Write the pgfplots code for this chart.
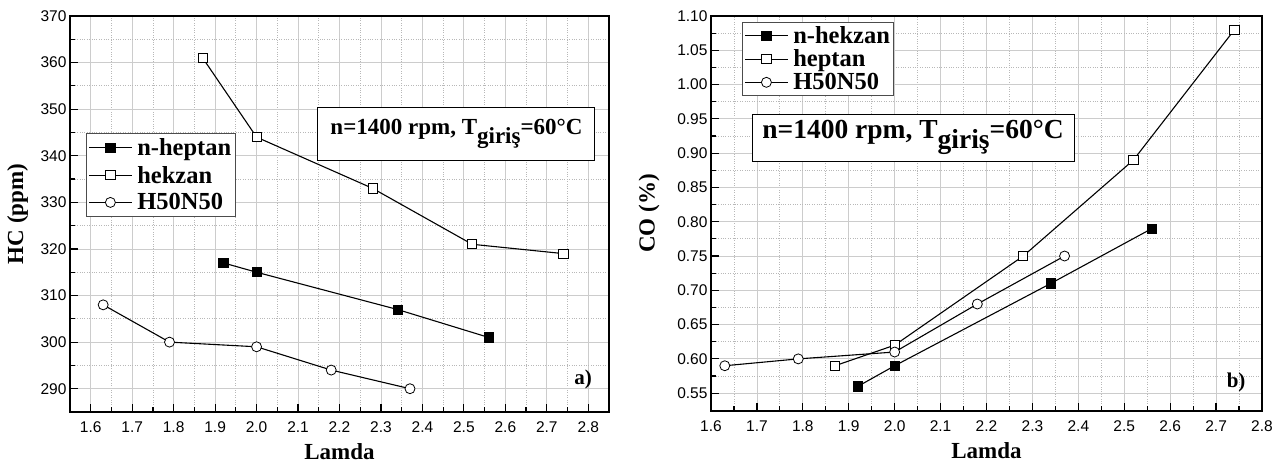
\documentclass[border=0pt]{standalone}
\usepackage{fontspec}
\setmainfont{Liberation Serif}
\setsansfont{Liberation Sans}
\usepackage{pgfplots}
\pgfplotsset{compat=1.18}

\pgfplotsset{
  mystyle/.style={
    scale only axis,
    axis line style={line width=1.6pt},
    tick pos=left,
    tick align=inside,
    major tick length=8pt, minor tick length=5pt,
    every tick/.style={black, line width=1.2pt},
    minor tick num=1,
    grid=both,
    major grid style={black!20, line width=0.8pt},
    minor grid style={black!28, dotted, line width=0.8pt},
    ticklabel style={font=\sffamily\fontsize{15.5}{15.5}\selectfont},
    /pgf/number format/assume math mode=true,
    xticklabel style={yshift=-6pt, /pgf/number format/.cd, fixed, fixed zerofill, precision=1},
    label style={font=\bfseries\fontsize{23}{23}\selectfont, inner sep=0pt},
    legend cell align=left,
    legend image code/.code={\draw[mark repeat=2,mark phase=2] plot coordinates {(0cm,0cm)(0.75cm,0cm)(1.5cm,0cm)};},
    clip=false,
  },
  sfill/.style={black, line width=1.1pt, mark=square*, mark size=4.6pt, mark options={solid, fill=black, line width=0.8pt}},
  sopen/.style={black, line width=1.1pt, mark=square*, mark size=4.6pt, mark options={solid, fill=white, line width=0.8pt}},
  scirc/.style={black, line width=1.1pt, mark=*, mark size=5pt, mark options={solid, fill=white, line width=0.8pt}},
}

\begin{document}
\begin{tikzpicture}
\useasboundingbox (0,0) rectangle (1287pt,464pt);

% ---------------- left: HC ----------------
\begin{axis}[mystyle,
  at={(70pt,52pt)}, anchor=south west,
  width=539pt, height=396pt,
  xmin=1.55, xmax=2.85, ymin=285, ymax=370,
  xtick={1.6,1.7,...,2.85},
  ytick={290,300,...,370},
  xlabel={Lamda}, ylabel={HC (ppm)},
  xlabel style={at={(axis description cs:0.5,-0.1)}, anchor=center},
  ylabel style={at={(axis description cs:-0.097,0.5)}, anchor=center},
  legend style={at={(axis description cs:0.0297,0.7045)}, anchor=north west,
    font=\bfseries\fontsize{24.5}{28}\selectfont, draw=black!70, line width=1pt,
    inner xsep=2pt, inner ysep=3pt, row sep=5pt, column sep=3pt},
]
\addplot[sfill] coordinates {(1.92,317) (2.00,315) (2.34,307) (2.56,301)};
\addlegendentry{n-heptan}
\addplot[sopen] coordinates {(1.87,361) (2.00,344) (2.28,333) (2.52,321) (2.74,319)};
\addlegendentry{hekzan}
\addplot[scirc] coordinates {(1.63,308) (1.79,300) (2.00,299) (2.18,294) (2.37,290)};
\addlegendentry{H50N50}
\node[draw, line width=1pt, fill=white, minimum width=277pt, minimum height=53pt, inner sep=0pt,
  font=\bfseries\fontsize{23}{24}\selectfont] at (rel axis cs:0.717,0.703)
  {n=1400 rpm, T\raisebox{-0.38em}{giriş}=60°C};
\node[font=\bfseries\fontsize{21}{21}\selectfont] at (rel axis cs:0.952,0.081) {a)};
\end{axis}

% ---------------- right: CO ----------------
\begin{axis}[mystyle,
  at={(711pt,53pt)}, anchor=south west,
  width=551pt, height=395pt,
  xmin=1.6, xmax=2.8, ymin=0.524, ymax=1.10,
  xtick={1.6,1.7,...,2.85},
  ytick={0.55,0.60,...,1.11},
  yticklabel style={/pgf/number format/.cd, fixed, fixed zerofill, precision=2},
  xlabel={Lamda}, ylabel={CO (\%)},
  xlabel style={at={(axis description cs:0.5,-0.1)}, anchor=center},
  ylabel style={at={(axis description cs:-0.1125,0.5)}, anchor=center},
  legend style={at={(axis description cs:0.0563,0.985)}, anchor=north west,
    font=\bfseries\fontsize{24.5}{27}\selectfont, draw=black!70, line width=1pt,
    inner xsep=2pt, inner ysep=2pt, row sep=1pt, column sep=3pt},
]
\addplot[sfill] coordinates {(1.92,0.56) (2.00,0.59) (2.34,0.71) (2.56,0.79)};
\addlegendentry{n-hekzan}
\addplot[sopen] coordinates {(1.87,0.59) (2.00,0.62) (2.28,0.75) (2.52,0.89) (2.74,1.08)};
\addlegendentry{heptan}
\addplot[scirc] coordinates {(1.63,0.59) (1.79,0.60) (2.00,0.61) (2.18,0.68) (2.37,0.75)};
\addlegendentry{H50N50}
\node[draw, line width=1pt, fill=white, minimum width=322pt, minimum height=47pt, inner sep=0pt,
  font=\bfseries\fontsize{27.5}{28}\selectfont] at (rel axis cs:0.3666,0.692)
  {n=1400 rpm, T\raisebox{-0.38em}{giriş}=60°C};
\node[font=\bfseries\fontsize{21}{21}\selectfont] at (rel axis cs:0.953,0.073) {b)};
\end{axis}
\end{tikzpicture}
\end{document}
